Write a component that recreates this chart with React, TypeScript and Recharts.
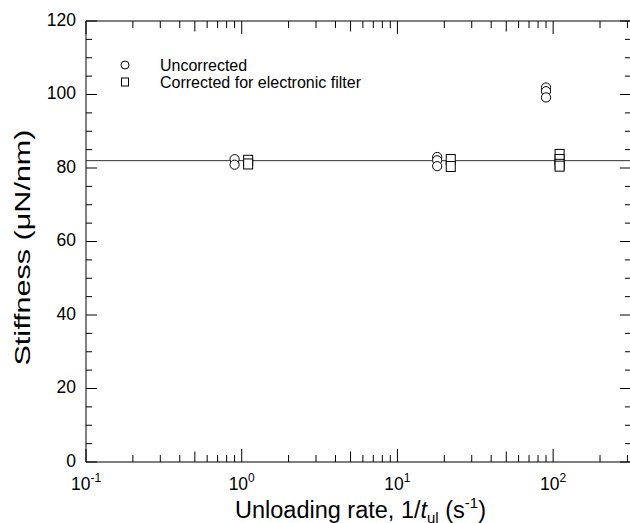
import React from 'react';
import { ScatterChart, Scatter, XAxis, YAxis, ReferenceLine, Legend, Label } from 'recharts';

// ---- data ----
const uncorrectedRate = [0.9, 0.9, 18, 18, 18, 90, 90, 90];
const uncorrectedStiffness = [82.4, 80.9, 83.0, 82.1, 80.5, 101.9, 100.9, 99.2];
const correctedRate = [1.1, 1.1, 22, 22, 110, 110, 110, 110];
const correctedStiffness = [82.1, 81.1, 82.3, 80.4, 83.7, 82.3, 81.0, 80.5];
const fitStiffness = 82;

const seriesNames = ['Uncorrected', 'Corrected for electronic filter'];

// ---- ticks ----
const xDomain = [0.1, 316.2];
const xTicks = [
  0.1, 0.2, 0.3, 0.4, 0.5, 0.6, 0.7, 0.8, 0.9,
  1, 2, 3, 4, 5, 6, 7, 8, 9,
  10, 20, 30, 40, 50, 60, 70, 80, 90,
  100, 200, 300,
];
const xMajorTicks = [0.1, 1, 10, 100];
const xMajorExponents = ['-1', '0', '1', '2'];
const xHalfTicks = [0.5, 5, 50];

const yDomain = [0, 120];
const yTicks = [0, 5, 10, 15, 20, 25, 30, 35, 40, 45, 50, 55, 60, 65, 70, 75, 80, 85, 90, 95, 100, 105, 110, 115, 120];
const yLabelTicks = [0, 20, 40, 60, 80, 100, 120];

const uncorrected = uncorrectedRate.map((r, i) => ({ rate: r, stiffness: uncorrectedStiffness[i] }));
const corrected = correctedRate.map((r, i) => ({ rate: r, stiffness: correctedStiffness[i] }));

const FONT = '"Liberation Sans", Arial, Helvetica, sans-serif';
const INK = '#000';

const near = (a: number, b: number) => Math.abs(a - b) < 1e-9 * Math.max(1, Math.abs(b));
const xTickLen = (v: number) => {
  if (xMajorTicks.some((t) => near(t, v))) return 13;
  if (xHalfTicks.some((t) => near(t, v))) return 10.5;
  return 7;
};
const yTickLen = (v: number) => (yLabelTicks.includes(v) ? 11 : 6);

const BottomTick = (props: any) => {
  const { x, y, payload } = props;
  const v = payload.value;
  const len = xTickLen(v);
  const idx = xMajorTicks.findIndex((t) => near(t, v));
  return (
    <g>
      <line x1={x} x2={x} y1={y} y2={y - len} stroke={INK} strokeWidth={1} />
      {idx >= 0 && (
        <text x={x} y={y + 28} textAnchor="middle" fontSize={17.5} fontFamily={FONT} fill={INK}>
          10
          <tspan fontSize={12} dy={-8}>{xMajorExponents[idx]}</tspan>
        </text>
      )}
    </g>
  );
};

const TopTick = (props: any) => {
  const { x, y, payload } = props;
  const len = xTickLen(payload.value);
  return <line x1={x} x2={x} y1={y} y2={y + len} stroke={INK} strokeWidth={1} />;
};

const LeftTick = (props: any) => {
  const { x, y, payload } = props;
  const v = payload.value;
  const len = yTickLen(v);
  return (
    <g>
      <line x1={x} x2={x + len} y1={y} y2={y} stroke={INK} strokeWidth={1} />
      {yLabelTicks.includes(v) && (
        <text x={x - 10} y={y + 4.5} textAnchor="end" fontSize={17.5} fontFamily={FONT} fill={INK}>
          {v}
        </text>
      )}
    </g>
  );
};

const RightTick = (props: any) => {
  const { x, y, payload } = props;
  const len = yTickLen(payload.value);
  return <line x1={x} x2={x - len} y1={y} y2={y} stroke={INK} strokeWidth={1} />;
};

const CircleMark = (props: any) => {
  const { cx, cy } = props;
  if (cx == null || cy == null) return <g />;
  return <circle cx={cx} cy={cy} r={4.6} fill="#fff" stroke={INK} strokeWidth={1} />;
};

const SquareMark = (props: any) => {
  const { cx, cy } = props;
  if (cx == null || cy == null) return <g />;
  return <rect x={cx - 4.5} y={cy - 5} width={9} height={10} fill="#fff" stroke={INK} strokeWidth={1} />;
};

const XLabel = (props: any) => {
  const vb = props.viewBox || { x: 86, width: 545 };
  const cx = vb.x + vb.width / 2 + 2;
  return (
    <text x={cx} y={518} textAnchor="middle" fontSize={23.5} fontFamily={FONT} fill={INK}>
      Unloading rate, 1/<tspan fontStyle="italic">t</tspan>
      <tspan fontSize={15} dy={5}>ul</tspan>
      <tspan dy={-5}> (s</tspan>
      <tspan fontSize={15} dy={-10}>-1</tspan>
      <tspan dy={10}>)</tspan>
    </text>
  );
};

const YLabel = (props: any) => {
  const vb = props.viewBox || { y: 21, height: 441 };
  const cy = vb.y + vb.height / 2 + 6;
  const x = 29.5;
  return (
    <text
      x={x}
      y={cy}
      transform={`rotate(-90, ${x}, ${cy})`}
      textAnchor="middle"
      fontSize={22.5}
      textLength={236}
      lengthAdjust="spacingAndGlyphs"
      fontFamily={FONT}
      fill={INK}
    >
      Stiffness (μN/nm)
    </text>
  );
};

const renderLegend = (props: any) => {
  const payload = [...(props.payload || [])].sort(
    (a: any, b: any) => seriesNames.indexOf(a.value) - seriesNames.indexOf(b.value)
  );
  return (
    <svg width={320} height={40} style={{ display: 'block', overflow: 'visible' }}>
      {payload.map((entry: any, i: number) => {
        const cy = 8 + 17 * i;
        const isCircle = entry.value === seriesNames[0];
        return (
          <g key={i}>
            {isCircle ? (
              <circle cx={10} cy={cy} r={4} fill="#fff" stroke={INK} strokeWidth={1} />
            ) : (
              <rect x={6.5} y={cy - 4} width={7} height={8} fill="#fff" stroke={INK} strokeWidth={1} />
            )}
            <text x={45} y={cy + 5.5} fontSize={16} fontFamily={FONT} fill={INK}>
              {entry.value}
            </text>
          </g>
        );
      })}
    </svg>
  );
};

export default function App() {
  return (
    <div style={{ position: 'absolute', left: 0, top: 0, width: 630, height: 523, overflow: 'hidden', background: '#fff' }}>
      <ScatterChart width={634} height={523} margin={{ top: 20, right: 2, bottom: 21, left: 26 }}>
        <XAxis
          xAxisId="bottom"
          dataKey="rate"
          type="number"
          scale="log"
          domain={xDomain}
          allowDataOverflow
          ticks={xTicks}
          interval={0}
          tickSize={0}
          tickMargin={0}
          tickLine={false}
          tick={BottomTick}
          height={40}
          axisLine={{ stroke: INK, strokeWidth: 1 }}
        >
          <Label content={XLabel} />
        </XAxis>
        <XAxis
          xAxisId="top"
          orientation="top"
          dataKey="rate"
          type="number"
          scale="log"
          domain={xDomain}
          allowDataOverflow
          ticks={xTicks}
          interval={0}
          tickSize={0}
          tickMargin={0}
          tickLine={false}
          tick={TopTick}
          height={1}
          axisLine={{ stroke: INK, strokeWidth: 1 }}
        />
        <YAxis
          yAxisId="left"
          dataKey="stiffness"
          type="number"
          domain={yDomain}
          allowDataOverflow
          ticks={yTicks}
          interval={0}
          tickSize={0}
          tickMargin={0}
          tickLine={false}
          tick={LeftTick}
          width={60}
          axisLine={{ stroke: INK, strokeWidth: 1 }}
        >
          <Label content={YLabel} />
        </YAxis>
        <YAxis
          yAxisId="right"
          orientation="right"
          dataKey="stiffness"
          type="number"
          domain={yDomain}
          allowDataOverflow
          ticks={yTicks}
          interval={0}
          tickSize={0}
          tickMargin={0}
          tickLine={false}
          tick={RightTick}
          width={1}
          axisLine={{ stroke: INK, strokeWidth: 1 }}
        />
        <ReferenceLine xAxisId="bottom" yAxisId="left" y={fitStiffness} stroke="#333" strokeWidth={1} />
        <Scatter
          name={seriesNames[0]}
          data={uncorrected}
          xAxisId="bottom"
          yAxisId="left"
          shape={CircleMark}
          isAnimationActive={false}
        />
        <Scatter
          name={seriesNames[1]}
          data={corrected}
          xAxisId="bottom"
          yAxisId="left"
          shape={SquareMark}
          isAnimationActive={false}
        />
        <Legend
          layout="vertical"
          align="center"
          verticalAlign="middle"
          content={renderLegend}
          wrapperStyle={{ left: 115, top: 57, width: 320, height: 40 }}
        />
      </ScatterChart>
    </div>
  );
}
